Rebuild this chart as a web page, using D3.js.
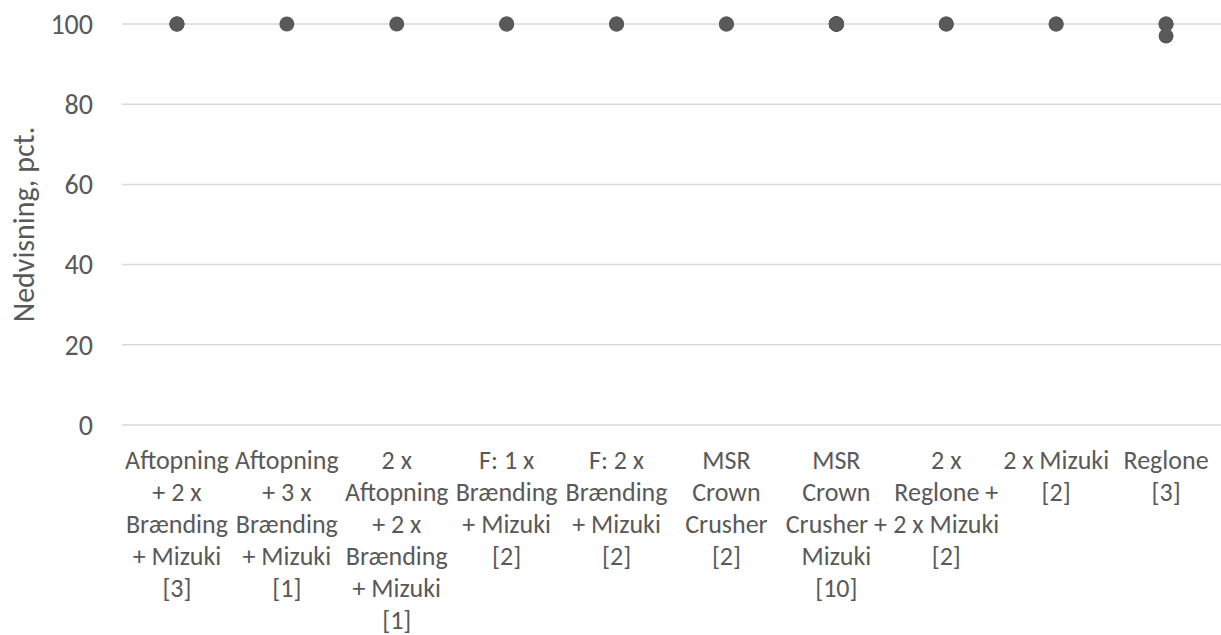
<!DOCTYPE html>
<html><head><meta charset="utf-8">
<script src="https://cdn.jsdelivr.net/npm/d3@7"></script>
<style>body{margin:0;background:#fff}svg{display:block}text{font-family:Carlito,Calibri,Lato,sans-serif;fill:#595959}</style>
</head><body><svg width="1221" height="635"></svg>
<script>
const categories = [
  "Aftopning\n+ 2 x\nBrænding\n+ Mizuki\n[3]",
  "Aftopning\n+ 3 x\nBrænding\n+ Mizuki\n[1]",
  "2 x\nAftopning\n+ 2 x\nBrænding\n+ Mizuki\n[1]",
  "F: 1 x\nBrænding\n+ Mizuki\n[2]",
  "F: 2 x\nBrænding\n+ Mizuki\n[2]",
  "MSR\nCrown\nCrusher\n[2]",
  "MSR\nCrown\nCrusher +\nMizuki\n[10]",
  "2 x\nReglone +\n2 x Mizuki\n[2]",
  "2 x Mizuki\n[2]",
  "Reglone\n[3]"
];
const values = [
  [100,100,100],
  [100],
  [100],
  [100,100],
  [100,100],
  [100,100],
  [100,100,100,100,100,100,100,100,100,100],
  [100,100],
  [100,100],
  [100,100,97]
];
const yTicks = [0,20,40,60,80,100];
const yTitle = "Nedvisning, pct.";

const svg = d3.select("svg");
const mL = 122, mR = 1221, mT = 24, mB = 425;
const x = d3.scaleBand().domain(categories).range([mL, mR]);
const y = d3.scaleLinear().domain([0,100]).range([mB, mT]);

svg.append("g").selectAll("line").data(yTicks).join("line")
  .attr("x1", mL).attr("x2", mR)
  .attr("y1", d=>y(d)).attr("y2", d=>y(d))
  .attr("stroke", "#d9d9d9").attr("stroke-width", 1.5);

svg.append("g").selectAll("text").data(yTicks).join("text")
  .attr("x", 93).attr("y", d=>y(d)).attr("dy", "0.35em")
  .attr("text-anchor", "end").style("font-size", "28px").text(d=>d);

svg.append("text")
  .attr("transform", `translate(34,${(mT+mB)/2}) rotate(-90)`)
  .attr("text-anchor", "middle")
  .style("font-size", "30px").text(yTitle);

const lab = svg.append("g").selectAll("text").data(categories).join("text")
  .attr("text-anchor", "middle").style("font-size", "26px");
lab.each(function(d){
  const t = d3.select(this);
  d.split("\n").forEach((line,i)=>{
    t.append("tspan").attr("x", x(d)+x.bandwidth()/2).attr("y", 469 + i*32).text(line);
  });
});

const pts = [];
categories.forEach((c,i)=>values[i].forEach(v=>pts.push({c,v})));
svg.append("g").selectAll("circle").data(pts).join("circle")
  .attr("cx", d=>x(d.c)+x.bandwidth()/2).attr("cy", d=>y(d.v))
  .attr("r", 7.5).attr("fill", "#595959");
</script></body></html>
